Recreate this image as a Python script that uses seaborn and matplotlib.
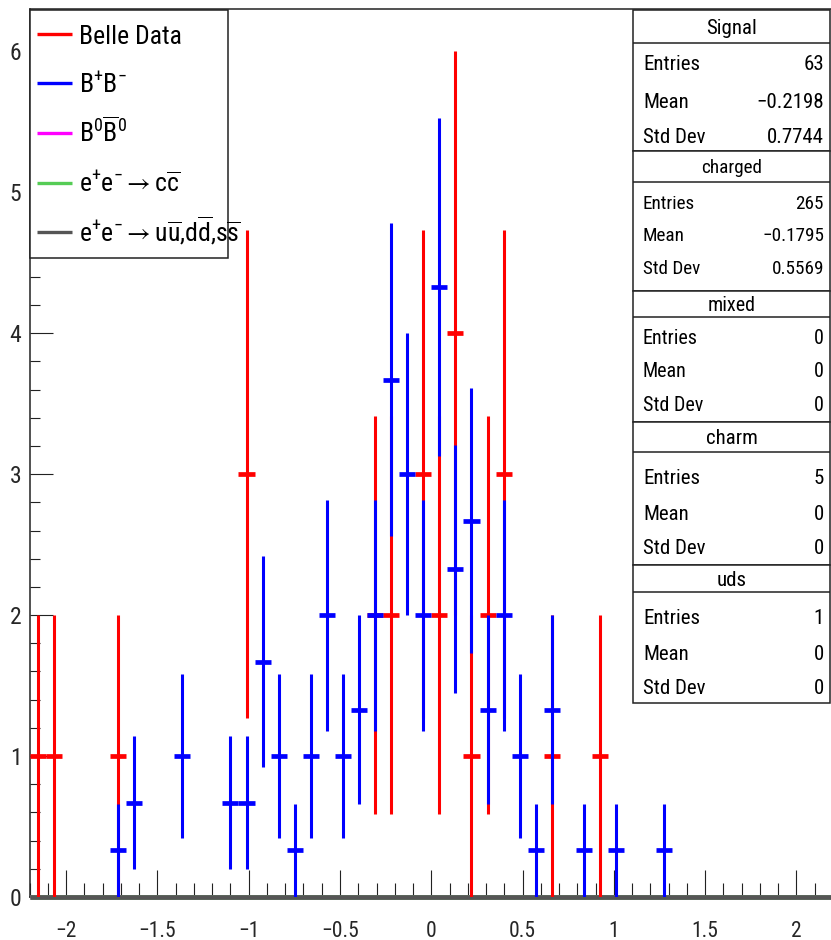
import numpy as np
import seaborn as sns
import matplotlib
matplotlib.use("Agg")
import matplotlib.pyplot as plt
from matplotlib import font_manager as fm
from matplotlib.patches import Rectangle
from matplotlib.lines import Line2D
from matplotlib.ticker import MultipleLocator, FuncFormatter

# ---------------- data ----------------
x_range = (-2.2, 2.2)
n_bins = 50
bin_width = 0.088

data_centers = [-2.156, -2.068, -1.716, -1.012, -0.308, -0.220, -0.044,
                0.044, 0.132, 0.220, 0.308, 0.396, 0.660, 0.924]
data_counts = [1, 1, 1, 3, 2, 2, 3, 2, 4, 1, 2, 3, 1, 1]
data_errors = [1.0, 1.0, 1.0, 1.73, 1.41, 1.41, 1.73, 1.41, 2.0, 1.0,
               1.41, 1.73, 1.0, 1.0]

charged_centers = [-1.716, -1.628, -1.364, -1.100, -1.012, -0.924, -0.836,
                   -0.748, -0.660, -0.572, -0.484, -0.396, -0.308, -0.220,
                   -0.132, -0.044, 0.044, 0.132, 0.220, 0.308, 0.396, 0.484,
                   0.572, 0.660, 0.836, 1.012, 1.276]
charged_values = [0.33, 0.67, 1.00, 0.67, 0.67, 1.67, 1.00, 0.33, 1.00, 2.00,
                  1.00, 1.33, 2.00, 3.67, 3.00, 2.00, 4.33, 2.33, 2.67, 1.33,
                  2.00, 1.00, 0.33, 1.33, 0.33, 0.33, 0.33]
charged_errors = [0.33, 0.47, 0.58, 0.47, 0.47, 0.75, 0.58, 0.33, 0.58, 0.82,
                  0.58, 0.67, 0.82, 1.11, 1.00, 0.82, 1.20, 0.88, 0.94, 0.67,
                  0.82, 0.58, 0.33, 0.67, 0.33, 0.33, 0.33]

mixed_counts = [0] * n_bins
charm_counts = [0] * n_bins
uds_counts = [0] * n_bins

legend_labels = ["Belle Data", r"B$^{+}$B$^{-}$", r"B$^{0}\overline{B}^{0}$",
                 r"e$^{+}$e$^{-}\rightarrow$c$\overline{c}$",
                 r"e$^{+}$e$^{-}\rightarrow$u$\overline{u}$,d$\overline{d}$,s$\overline{s}$"]
legend_colors = ["#ff0000", "#0000ff", "#ff00ff", "#55cc55", "#555555"]

stat_titles = ["Signal", "charged", "mixed", "charm", "uds"]
stat_entries = ["63", "265", "0", "5", "1"]
stat_means = ["\u22120.2198", "\u22120.1795", "0", "0", "0"]
stat_stds = ["0.7744", "0.5569", "0", "0", "0"]

# ---------------- style ----------------
sns.set_theme(style="white")

# look for a condensed sans face (reference text is narrow)
FONT, STRETCH, NARROW = "Liberation Sans", "normal", False
names = {f.name for f in fm.fontManager.ttflist}
for cand in ["Roboto Condensed", "Liberation Sans Narrow", "Open Sans Condensed",
             "Noto Sans Condensed", "DejaVu Sans Condensed"]:
    if cand in names:
        FONT, NARROW = cand, True
        break
if not NARROW:
    for f in fm.fontManager.ttflist:
        st = str(f.stretch)
        if f.name in ("Noto Sans", "Open Sans", "Roboto", "DejaVu Sans") and \
                st in ("condensed", "semi-condensed") and \
                str(f.style) == "normal" and str(f.weight) in ("400", "normal", "regular"):
            FONT, STRETCH, NARROW = f.name, st, True
            break

k = 1.0 if NARROW else 0.78
plt.rcParams["font.family"] = [FONT, "DejaVu Sans"]
plt.rcParams["font.stretch"] = STRETCH
plt.rcParams["mathtext.fontset"] = "custom"
plt.rcParams["mathtext.rm"] = FONT
plt.rcParams["mathtext.it"] = FONT
plt.rcParams["mathtext.default"] = "regular"

W, H = 831, 940
fig = plt.figure(figsize=(W / 100, H / 100), dpi=100)
fig.patch.set_facecolor("white")

x0_px, x1_px = 29.6, 833.0
y0_px, y1_px = 897.0, 9.0
ax = fig.add_axes([x0_px / W, 1 - y0_px / H, (x1_px - x0_px) / W, (y0_px - y1_px) / H])
ax.set_facecolor("white")
ax.set_xlim(*x_range)
ax.set_ylim(0, 6.3)

edges = np.linspace(x_range[0], x_range[1], n_bins + 1)

# zero-valued MC histograms drawn as lines along the baseline
ax.stairs(mixed_counts, edges, color="#ff00ff", lw=3.3, clip_on=False, zorder=3)
ax.stairs(charm_counts, edges, color="#55cc55", lw=3.3, clip_on=False, zorder=3)
ax.stairs(uds_counts, edges, color="#555555", lw=3.3, clip_on=False, zorder=3)

# Belle data (red)
ax.errorbar(data_centers, data_counts, yerr=data_errors, fmt="none",
            ecolor="#ff0000", elinewidth=2.2, capsize=0, zorder=4)
ax.errorbar(data_centers, data_counts, xerr=bin_width / 2, fmt="none",
            ecolor="#ff0000", elinewidth=3.4, capsize=0, zorder=4)
# charged B+B- (blue)
ax.errorbar(charged_centers, charged_values, yerr=charged_errors, fmt="none",
            ecolor="#0000ff", elinewidth=2.2, capsize=0, zorder=5)
ax.errorbar(charged_centers, charged_values, xerr=bin_width / 2, fmt="none",
            ecolor="#0000ff", elinewidth=3.4, capsize=0, zorder=5)

# axes / ticks
ax.xaxis.set_major_locator(MultipleLocator(0.5))
ax.xaxis.set_minor_locator(MultipleLocator(0.1))
ax.yaxis.set_major_locator(MultipleLocator(1))
ax.yaxis.set_minor_locator(MultipleLocator(0.2))
fmt = FuncFormatter(lambda v, p: ("%g" % round(v, 2)).replace("-", "\u2212"))
ax.xaxis.set_major_formatter(fmt)
ax.yaxis.set_major_formatter(fmt)
ax.tick_params(axis="x", which="major", direction="in", length=19.5, width=0.8,
               color="#222222", labelsize=15.5 * k, pad=17, top=False, bottom=True)
ax.tick_params(axis="x", which="minor", direction="in", length=10, width=0.8,
               color="#222222", top=False, bottom=True)
ax.tick_params(axis="y", which="major", direction="in", length=16.5, width=0.8,
               color="#222222", labelsize=17 * k, pad=6, right=False, left=True)
ax.tick_params(axis="y", which="minor", direction="in", length=7.5, width=0.8,
               color="#222222", right=False, left=True)
for side in ["left", "top", "bottom"]:
    ax.spines[side].set_color("#222222")
    ax.spines[side].set_linewidth(1.1)
ax.spines["right"].set_visible(False)


# ---------------- helpers in pixel coords ----------------
def fx(x):
    return x / W


def fy(y):
    return 1 - y / H


def box(x_l, y_t, x_r, y_b, lw=1.1):
    r = Rectangle((fx(x_l), fy(y_b)), fx(x_r) - fx(x_l), fy(y_t) - fy(y_b),
                  transform=fig.transFigure, facecolor="white",
                  edgecolor="#222222", lw=lw, zorder=10)
    fig.add_artist(r)


def hline(x_l, x_r, y, color="#222222", lw=1.1):
    fig.add_artist(Line2D([fx(x_l), fx(x_r)], [fy(y), fy(y)],
                          transform=fig.transFigure, color=color, lw=lw,
                          zorder=11, solid_capstyle="butt"))


def txt(x, y_center, s, size, ha="left"):
    em = size * 100 / 72
    fig.text(fx(x), fy(y_center + 0.36 * em), s, fontsize=size, ha=ha,
             va="baseline", color="black", zorder=12)


# ---------------- legend ----------------
box(30, 10, 228, 258)
rows = [34.3, 83.3, 132.7, 183.3, 232.3]
for lab, col, yy in zip(legend_labels, legend_colors, rows):
    hline(36.7, 71.7, yy, color=col, lw=2.4)
    txt(79.3, yy, lab, 18.5 * k)

# ---------------- stat boxes ----------------
bx_l, bx_r = 633, 830
boxes = [(10, 42.7, 150.7, [63, 100, 135], 15),
         (150.7, 182.3, 290.7, [201.7, 234.3, 266.7], 13.8),
         (290.7, 316.7, 421.7, [336.7, 370, 403.3], 14.5),
         (421.7, 452, 565, [476.7, 513, 546.7], 15),
         (565, 591.7, 703.3, [617, 652.7, 686.7], 15)]
for (top, hdr, bot, rys, sz), title, ent, mean, std in zip(
        boxes, stat_titles, stat_entries, stat_means, stat_stds):
    box(bx_l, top, bx_r, bot)
    hline(bx_l, bx_r, hdr)
    txt((bx_l + bx_r) / 2, (top + hdr) / 2, title, sz * k, ha="center")
    for lab, val, yy in zip(["Entries", "Mean", "Std Dev"], [ent, mean, std], rys):
        txt(643, yy, lab, sz * k)
        txt(824, yy, val, sz * k, ha="right")

fig.savefig("out.png", dpi=100, facecolor="white")
